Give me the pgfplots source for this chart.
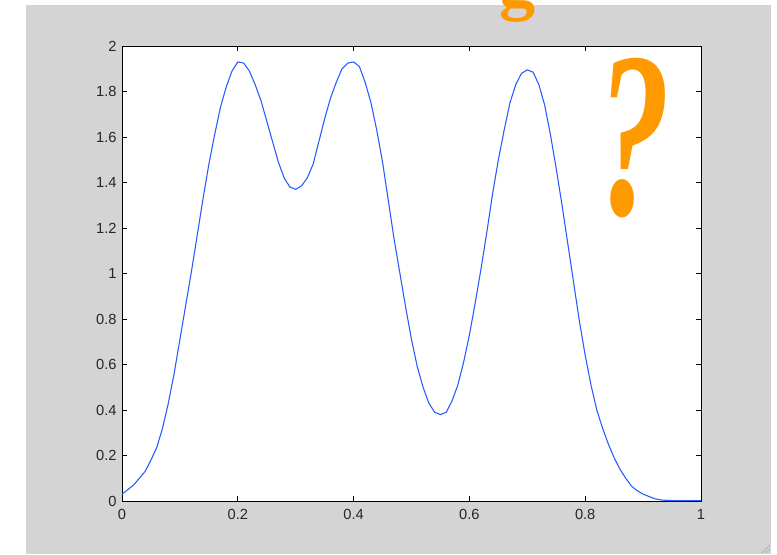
\documentclass[border=0pt]{standalone}
\usepackage{pgfplots}
\pgfplotsset{compat=1.18}
\usepackage{fontspec}
\setmainfont{Liberation Sans}
\newfontfamily\qfont{Liberation Serif}
\definecolor{bggray}{RGB}{212,212,212}
\definecolor{qorange}{RGB}{255,153,0}
\definecolor{mblue}{RGB}{40,90,255}

\pgfplotstableread{
x y
0.00 0.030
0.01 0.050
0.02 0.070
0.03 0.100
0.04 0.130
0.05 0.180
0.06 0.235
0.07 0.320
0.08 0.430
0.09 0.560
0.10 0.710
0.11 0.860
0.12 1.010
0.13 1.170
0.14 1.330
0.15 1.480
0.16 1.610
0.17 1.730
0.18 1.820
0.19 1.890
0.20 1.930
0.21 1.925
0.22 1.890
0.23 1.830
0.24 1.760
0.25 1.670
0.26 1.580
0.27 1.490
0.28 1.420
0.29 1.380
0.30 1.370
0.31 1.385
0.32 1.420
0.33 1.480
0.34 1.580
0.35 1.680
0.36 1.770
0.37 1.840
0.38 1.900
0.39 1.925
0.40 1.930
0.41 1.910
0.42 1.840
0.43 1.750
0.44 1.630
0.45 1.490
0.46 1.320
0.47 1.150
0.48 1.000
0.49 0.850
0.50 0.710
0.51 0.590
0.52 0.500
0.53 0.430
0.54 0.390
0.55 0.380
0.56 0.390
0.57 0.440
0.58 0.510
0.59 0.610
0.60 0.730
0.61 0.870
0.62 1.020
0.63 1.180
0.64 1.350
0.65 1.500
0.66 1.630
0.67 1.750
0.68 1.830
0.69 1.880
0.70 1.895
0.71 1.885
0.72 1.830
0.73 1.740
0.74 1.610
0.75 1.460
0.76 1.300
0.77 1.130
0.78 0.960
0.79 0.790
0.80 0.640
0.81 0.510
0.82 0.400
0.83 0.320
0.84 0.250
0.85 0.190
0.86 0.140
0.87 0.100
0.88 0.065
0.89 0.045
0.90 0.030
0.91 0.020
0.92 0.010
0.93 0.005
0.94 0.003
0.95 0.002
1.00 0.002
}\curve

\begin{document}
\begin{tikzpicture}[x=0.75pt,y=0.75pt]
\useasboundingbox (0,0) rectangle (777,554);
\fill[white] (0,0) rectangle (777,554);
\fill[bggray] (26,0) rectangle (771,549);
% resize grip
\draw[gray!60, line width=0.6pt] (762,1) -- (770,9);
\draw[gray!60, line width=0.6pt] (766,1) -- (770,5);

\begin{axis}[at={(91.5pt,39.75pt)}, anchor=south west,
    scale only axis, width=434.25pt, height=341.25pt,
    axis background/.style={fill=white},
    xmin=0, xmax=1, ymin=0, ymax=2,
    xtick={0,0.2,0.4,0.6,0.8,1},
    ytick={0,0.2,0.4,0.6,0.8,1,1.2,1.4,1.6,1.8,2},
    tick align=inside,
    major tick length=3.75pt,
    axis line style={black, line width=0.75pt},
    tick style={black, line width=0.75pt},
    ticklabel style={font=\fontsize{11}{13}\selectfont, text=black!85},
    /pgf/number format/assume math mode=true,
    xticklabel style={yshift=-3pt},
    yticklabel style={xshift=-0.5pt},
    ]
  \addplot[mblue, line width=0.8pt] table[x=x, y=y] {\curve};
\end{axis}

\node[qorange, font=\qfont\bfseries\itshape\fontsize{177}{177}\selectfont,
      inner sep=0pt, xscale=0.62] at (634,416) {?};
\node[qorange, font=\qfont\bfseries\fontsize{54}{54}\selectfont,
      inner sep=0pt, anchor=base] at (517,547) {g};
\end{tikzpicture}
\end{document}
